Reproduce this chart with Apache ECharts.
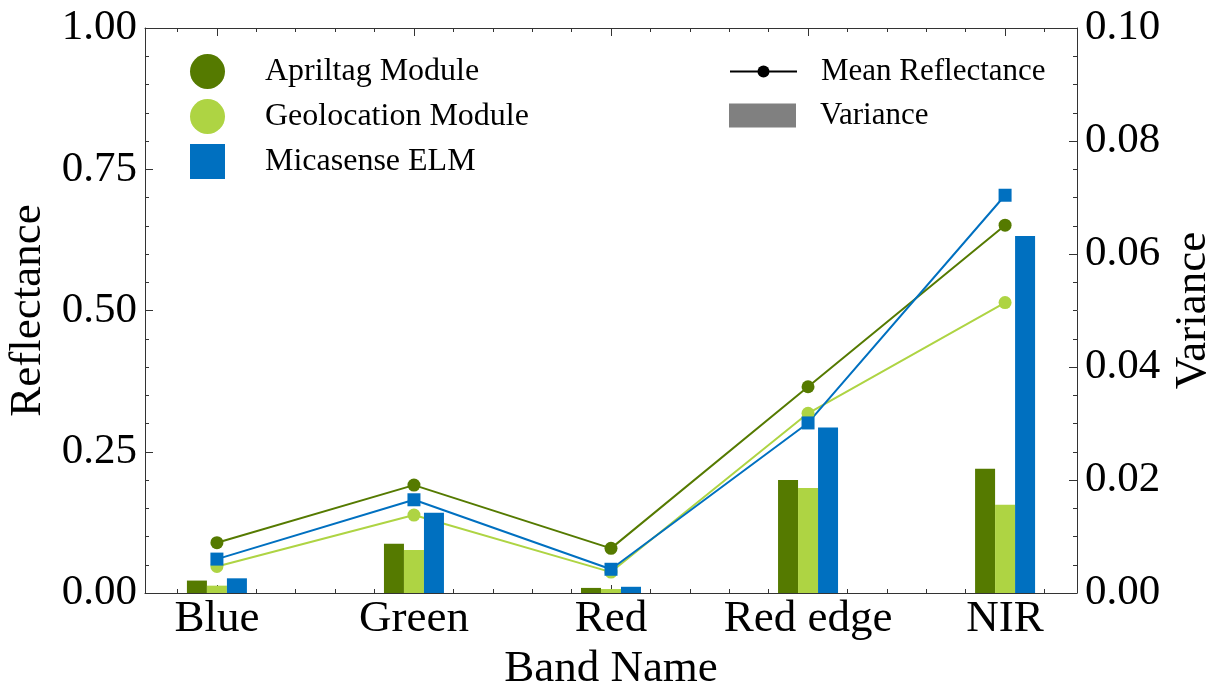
<!DOCTYPE html>
<html>
<head>
<meta charset="utf-8">
<script src="https://cdn.jsdelivr.net/npm/echarts@6/dist/echarts.min.js"></script>
<style>
  html, body { margin: 0; padding: 0; background: #fff; }
  #main { width: 1209px; height: 684px; }
</style>
</head>
<body>
<div id="main"></div>
<script>
// band names on the x axis
var bands = ['Blue', 'Green', 'Red', 'Red edge', 'NIR'];

// mean reflectance (left axis)
var aprilMean = [0.089, 0.191, 0.079, 0.365, 0.651];
var geoMean = [0.047, 0.138, 0.037, 0.318, 0.514];
var micaMean = [0.060, 0.165, 0.042, 0.301, 0.704];

// variance (right axis)
var aprilVar = [0.0022, 0.0087, 0.0009, 0.0200, 0.0220];
var geoVar = [0.0013, 0.0076, 0.0007, 0.0186, 0.0156];
var micaVar = [0.0026, 0.0142, 0.0011, 0.0293, 0.0632];

var cApril = '#557a00';
var cGeo = '#aed443';
var cMica = '#0070c0';
var font = 'Liberation Serif';

function pts(arr) {
  return arr.map(function (v, i) { return [i, v]; });
}

var myChart = echarts.init(document.getElementById('main'));

var lineBase = function (name, color, symbol, data) {
  return {
    name: name,
    type: 'line',
    xAxisIndex: 0,
    yAxisIndex: 0,
    data: pts(data),
    symbol: symbol,
    symbolSize: 13,
    itemStyle: { color: color },
    lineStyle: { color: color, width: 2 },
    z: 2
  };
};
var barBase = function (name, color, data) {
  return {
    name: name,
    type: 'bar',
    xAxisIndex: 0,
    yAxisIndex: 1,
    data: pts(data),
    barWidth: 20,
    barGap: '0%',
    itemStyle: { color: color },
    z: 3
  };
};

var axisLine = { show: true, onZero: false, lineStyle: { color: '#333', width: 1 } };
var majorTick = { show: true, inside: true, length: 8, lineStyle: { color: '#333' } };

myChart.setOption({
  animation: false,
  grid: { left: 145, right: 132, top: 28, bottom: 91, outerBoundsMode: 'none' },
  legend: [
    {
      data: [
        { name: 'Apriltag Module', icon: 'circle' },
        { name: 'Geolocation Module', icon: 'circle' },
        { name: 'Micasense ELM', icon: 'rect' }
      ],
      orient: 'vertical',
      left: 185,
      top: 49,
      itemWidth: 35,
      itemHeight: 35,
      itemGap: 10,
      selectedMode: false,
      textStyle: { fontFamily: font, fontSize: 32, color: '#000', padding: [0, 0, 0, 35] }
    },
    {
      data: ['Mean Reflectance'],
      left: 724,
      top: 51,
      itemWidth: 67,
      itemHeight: 15,
      selectedMode: false,
      textStyle: { fontFamily: font, fontSize: 31, color: '#000', padding: [0, 0, 0, 19] }
    },
    {
      data: [{ name: 'Variance', icon: 'rect' }],
      left: 724,
      top: 95,
      itemWidth: 67,
      itemHeight: 24,
      selectedMode: false,
      textStyle: { fontFamily: font, fontSize: 31, color: '#000', padding: [0, 0, 0, 19] }
    }
  ],
  xAxis: [
    {
      type: 'value',
      position: 'bottom',
      min: -0.365,
      max: 4.365,
      splitNumber: 5,
      minInterval: 1,
      maxInterval: 1,
      name: 'Band Name',
      nameLocation: 'middle',
      nameGap: 49,
      nameTextStyle: { fontFamily: font, fontSize: 45, color: '#000' },
      axisLine: axisLine,
      axisTick: majorTick,
      minorTick: { show: true, splitNumber: 5, length: 4, lineStyle: { color: '#333' } },
      axisLabel: {
        fontFamily: font, fontSize: 45, color: '#000', margin: 4,
        showMinLabel: true, showMaxLabel: true,
        formatter: function (v) {
          var i = Math.round(v);
          return Math.abs(v - i) < 1e-6 && bands[i] ? bands[i] : '';
        }
      },
      splitLine: { show: false }
    },
    {
      type: 'value',
      position: 'top',
      min: -0.365,
      max: 4.365,
      splitNumber: 5,
      minInterval: 1,
      maxInterval: 1,
      axisLine: axisLine,
      axisTick: majorTick,
      minorTick: { show: true, splitNumber: 5, length: 4, lineStyle: { color: '#333' } },
      axisLabel: { show: false },
      splitLine: { show: false }
    }
  ],
  yAxis: [
    {
      type: 'value',
      position: 'left',
      min: 0,
      max: 1,
      interval: 0.25,
      name: 'Reflectance',
      nameLocation: 'middle',
      nameRotate: 90,
      nameGap: 92,
      nameTextStyle: { fontFamily: font, fontSize: 45, color: '#000' },
      axisLine: axisLine,
      axisTick: majorTick,
      minorTick: { show: true, splitNumber: 5, length: 4, lineStyle: { color: '#333' } },
      axisLabel: {
        fontFamily: font, fontSize: 43, color: '#000', margin: 8,
        formatter: function (v) { return v.toFixed(2); }
      },
      splitLine: { show: false }
    },
    {
      type: 'value',
      position: 'right',
      min: 0,
      max: 0.1,
      interval: 0.02,
      name: 'Variance',
      nameLocation: 'middle',
      nameRotate: 90,
      nameGap: 86,
      nameTextStyle: { fontFamily: font, fontSize: 45, color: '#000' },
      axisLine: axisLine,
      axisTick: majorTick,
      minorTick: { show: true, splitNumber: 4, length: 4, lineStyle: { color: '#333' } },
      axisLabel: {
        fontFamily: font, fontSize: 43, color: '#000', margin: 8,
        formatter: function (v) { return v.toFixed(2); }
      },
      splitLine: { show: false }
    }
  ],
  series: [
    lineBase('Apriltag Module', cApril, 'circle', aprilMean),
    lineBase('Geolocation Module', cGeo, 'circle', geoMean),
    lineBase('Micasense ELM', cMica, 'rect', micaMean),
    barBase('Apriltag Variance', cApril, aprilVar),
    barBase('Geolocation Variance', cGeo, geoVar),
    barBase('Micasense Variance', cMica, micaVar),
    {
      name: 'Mean Reflectance',
      type: 'line',
      data: [],
      symbol: 'circle',
      itemStyle: { color: '#000' },
      lineStyle: { color: '#000', width: 2 }
    },
    {
      name: 'Variance',
      type: 'line',
      data: [],
      itemStyle: { color: '#808080' },
      lineStyle: { color: '#808080' }
    }
  ]
});
</script>
</body>
</html>
